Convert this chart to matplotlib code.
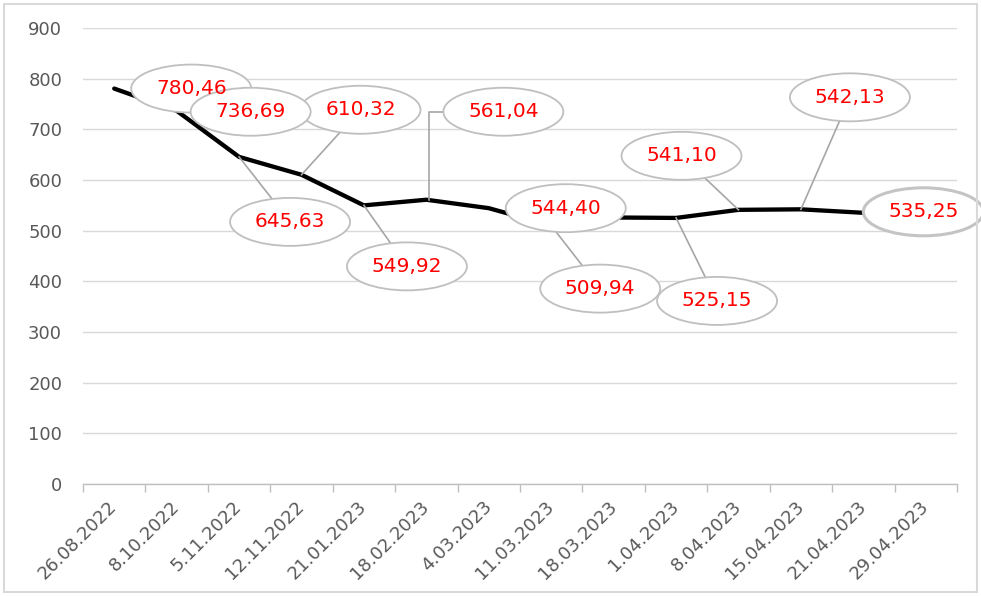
import matplotlib
matplotlib.use("Agg")
import matplotlib.pyplot as plt
from matplotlib.patches import Ellipse, Rectangle
from matplotlib.lines import Line2D
import matplotlib.transforms as mtransforms

# ---- data ----
dates = ["26.08.2022", "8.10.2022", "5.11.2022", "12.11.2022", "21.01.2023",
         "18.02.2023", "4.03.2023", "11.03.2023", "18.03.2023", "1.04.2023",
         "8.04.2023", "15.04.2023", "21.04.2023", "29.04.2023"]
values = [780.46, 736.69, 645.63, 610.32, 549.92, 561.04, 544.40, 509.94,
          526.00, 525.15, 541.10, 542.13, 535.25]
label_texts = ["780,46", "736,69", "645,63", "610,32", "549,92", "561,04",
               "544,40", "509,94", None, "525,15", "541,10", "542,13", "535,25"]
yticks = [0, 100, 200, 300, 400, 500, 600, 700, 800, 900]

# label offsets in pixels (dx, dy) from the data point
offsets = [(77, 0), (74, -1), (51, -65), (59, 65), (43, -61), (77, 88),
           (77, 0), (49, -63), None, (41, -83), (-57, 54), (49, 112), (60, 1)]
elbow = {5}
no_leader = {0, 1, 6, 12}
# draw order so that later ellipses cover earlier leaders
order = [7, 9, 4, 2, 3, 10, 11, 5, 0, 1, 6, 12]

W, H = 981, 596
fig = plt.figure(figsize=(W / 100, H / 100), dpi=100)
fig.patch.set_facecolor("white")
left, right, top, bottom = 83, 957, 28, 484
ax = fig.add_axes([left / W, (H - bottom) / H, (right - left) / W, (bottom - top) / H])

x = list(range(len(values)))
ax.plot(x, values, color="black", lw=3.1, solid_joinstyle="round",
        solid_capstyle="round", zorder=3)

ax.set_xlim(-0.5, len(dates) - 0.5)
ax.set_ylim(0, 900)
ax.set_yticks(yticks)
ax.set_yticklabels([str(t) for t in yticks])
ax.grid(axis="y", color="#d9d9d9", lw=1.0)
ax.set_axisbelow(True)
for s in ["top", "right", "left"]:
    ax.spines[s].set_visible(False)
ax.spines["bottom"].set_color("#bfbfbf")
ax.spines["bottom"].set_linewidth(1.0)
ax.tick_params(axis="y", length=0, pad=15, labelsize=13, labelcolor="#595959")

# category boundary ticks
ax.set_xticks([i - 0.5 for i in range(len(dates) + 1)], minor=False)
ax.set_xticklabels([])
ax.tick_params(axis="x", which="major", length=6, color="#bfbfbf", width=1.0,
               direction="out")
ax.set_xticks(list(range(len(dates))), minor=True)
ax.set_xticklabels(dates, minor=True, rotation=45, ha="right", va="center",
                   rotation_mode="anchor")
ax.tick_params(axis="x", which="minor", length=0, pad=14, labelsize=13,
               labelcolor="#595959")

# labels with ellipses
for i in order:
    dx, dy = offsets[i]
    tr = fig.dpi_scale_trans + mtransforms.ScaledTranslation(i, values[i], ax.transData)
    cx, cy = dx / 100, dy / 100
    if i not in no_leader:
        if i in elbow:
            xs, ys = [0.03, 0.03, cx], [0, cy, cy]
        else:
            xs, ys = [0, cx], [0, cy]
        ln = Line2D(xs, ys, transform=tr, color="#a6a6a6", lw=1.2, zorder=4)
        ln.set_clip_on(False)
        ax.add_artist(ln)
    lw = 2.2 if i == 12 else 1.3
    ec = "#c4c4c4" if i == 12 else "#bfbfbf"
    el = Ellipse((cx, cy), 1.20, 0.48, transform=tr, facecolor="white",
                 edgecolor=ec, lw=lw, zorder=5)
    el.set_clip_on(False)
    ax.add_artist(el)
    ax.text(cx, cy, label_texts[i], transform=tr, ha="center", va="center",
            color="#ff0000", fontsize=14.5, zorder=6, clip_on=False)

# outer border
fig.add_artist(Rectangle((4 / W, 4 / H), (W - 8) / W, (H - 8) / H,
                         transform=fig.transFigure, fill=False,
                         edgecolor="#d9d9d9", lw=1.5))

fig.savefig("out.png", dpi=100)
